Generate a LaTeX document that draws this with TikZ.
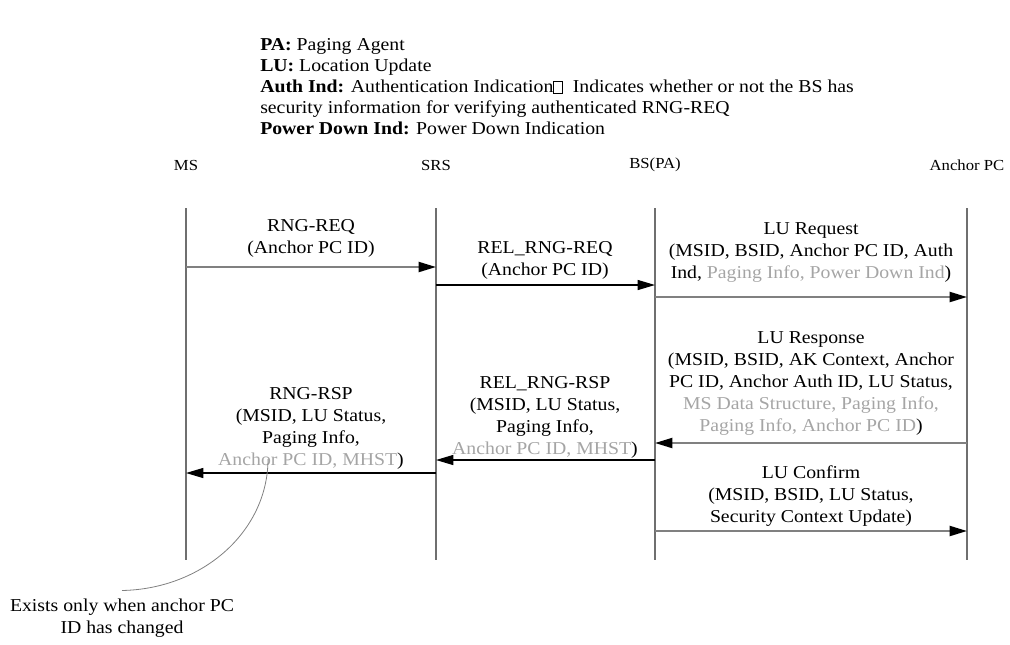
\documentclass[tikz,border=0pt]{standalone}
\usepackage{fontspec}
\setmainfont{Liberation Serif}[FakeStretch=1.09]
\usetikzlibrary{arrows.meta}
\definecolor{linegray}{HTML}{6F6F6F}
\definecolor{siggray}{HTML}{808080}
\definecolor{optgray}{HTML}{A5A5A5}
\newcommand{\emptyglyph}{{\setlength{\fboxsep}{0pt}\setlength{\fboxrule}{0.5pt}\fbox{\rule{0pt}{0.62em}\hspace{0.45em}}}}
\newcommand{\opt}[1]{\textcolor{optgray}{#1}}

\begin{document}
\begin{tikzpicture}[x=0.75pt,y=-0.75pt,
  font=\fontsize{13.6}{16.5}\selectfont,
  sigtip/.style={-{Triangle[length=13pt,width=7.5pt,black]}},
  life/.style={draw=linegray,line width=0.9pt},
  sigthick/.style={sigtip,siggray,line width=1.5pt},
  sigthin/.style={sigtip,black,line width=0.9pt},
  lbl/.style={align=center,inner sep=0pt},
  hdr/.style={font=\fontsize{11.5}{13}\selectfont}]

  \useasboundingbox (0,0) rectangle (1010,644);

  % ===== LEGEND =====
  \node[anchor=west,align=left,inner sep=0pt,font=\fontsize{13.6}{15.75}\selectfont] (legend) at (260,87)
    {\textbf{PA:} Paging Agent\\
     \textbf{LU:} Location Update\\
     \textbf{Auth Ind:} Authentication Indication\emptyglyph\ \ Indicates whether or not the BS has\\
     security information for verifying authenticated RNG-REQ\\
     \textbf{Power Down Ind:} Power Down Indication};

  % ===== ENTITIES =====
  \foreach \n/\x/\t in {ms/186/MS, srs/436/SRS, bs/655/BS(PA), pc/967/Anchor PC} {
    \node[hdr] (\n) at (\x,165) {\t};
    \draw[life] (\n |- 0,208) -- (\n |- 0,560);
  }

  % ===== REQUESTS =====
  \node[lbl] (rngreq) at (311,238.5) {RNG-REQ\\(Anchor PC ID)};
  \draw[sigthick] (ms |- 0,267) -- (srs |- 0,267);

  \node[lbl] (relreq) at (545,260.5) {REL\_RNG-REQ\\(Anchor PC ID)};
  \draw[sigthin] (srs |- 0,285) -- (bs |- 0,285);

  \node[lbl] (lureq) at (811,252.5)
    {LU Request\\(MSID, BSID, Anchor PC ID, Auth\\Ind, \opt{Paging Info, Power Down Ind})};
  \draw[sigthick] (bs |- 0,297) -- (pc |- 0,297);

  % ===== RESPONSES =====
  \node[lbl] (lursp) at (811,384)
    {LU Response\\(MSID, BSID, AK Context, Anchor\\PC ID, Anchor Auth ID, LU Status,\\
     \opt{MS Data Structure, Paging Info,}\\\opt{Paging Info, Anchor PC ID})};
  \draw[sigthick] (pc |- 0,443) -- (bs |- 0,443);

  \node[lbl] (relrsp) at (545,417)
    {REL\_RNG-RSP\\(MSID, LU Status,\\Paging Info,\\\opt{Anchor PC ID, MHST})};
  \draw[sigthin] (bs |- 0,460) -- (srs |- 0,460);

  \node[lbl] (rngrsp) at (311,428)
    {RNG-RSP\\(MSID, LU Status,\\Paging Info,\\\opt{Anchor PC ID, MHST})};
  \draw[sigthin] (srs |- 0,473) -- (ms |- 0,473);

  \node[lbl] (luconf) at (811,496)
    {LU Confirm\\(MSID, BSID, LU Status,\\Security Context Update)};
  \draw[sigthick] (bs |- 0,531) -- (pc |- 0,531);

  % ===== NOTE =====
  \coordinate (rspmark) at (268,459);
  \node[lbl] (note) at (122,618) {Exists only when anchor PC\\ID has changed};
  \draw[siggray,line width=0.6pt] (rspmark) .. controls (268,531) and (203,589) .. ([yshift=6pt]note.north);

\end{tikzpicture}
\end{document}
